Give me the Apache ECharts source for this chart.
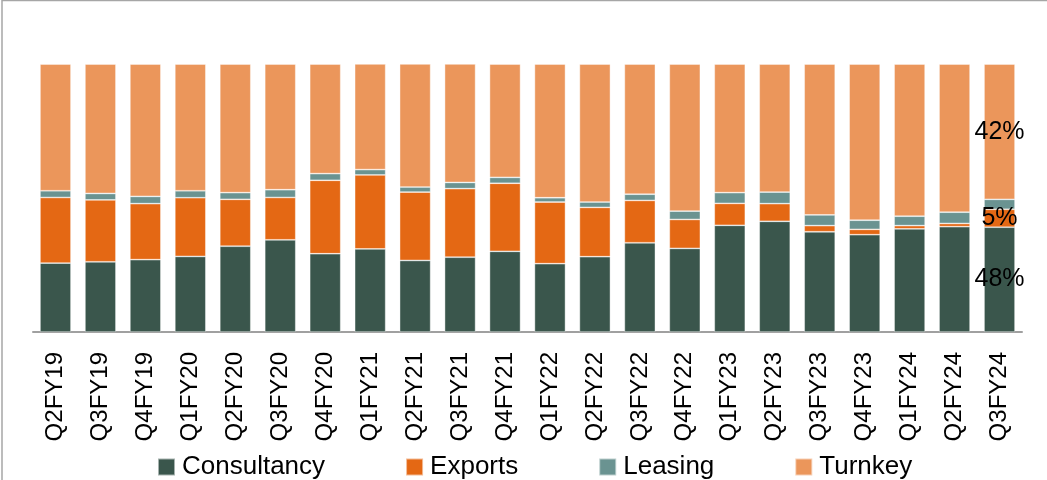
<!DOCTYPE html>
<html>
<head>
<meta charset="utf-8">
<script src="https://cdn.jsdelivr.net/npm/echarts@6/dist/echarts.min.js"></script>
<style>html,body{margin:0;padding:0;background:#fff}#c{width:1047px;height:480px}</style>
</head>
<body>
<div id="c"></div>
<script>
const categories = ['Q2FY19','Q3FY19','Q4FY19','Q1FY20','Q2FY20','Q3FY20','Q4FY20','Q1FY21','Q2FY21','Q3FY21','Q4FY21','Q1FY22','Q2FY22','Q3FY22','Q4FY22','Q1FY23','Q2FY23','Q3FY23','Q4FY23','Q1FY24','Q2FY24','Q3FY24'];
const consultancy = [25.7,26.2,27.0,28.2,32.0,34.4,29.2,31.0,26.7,27.9,30.1,25.5,28.1,33.3,31.2,39.8,41.3,37.4,36.3,38.5,39.3,39.1];
const exportsVals = [24.5,23.1,20.9,21.9,17.5,15.8,27.4,27.6,25.5,25.6,25.4,23.0,18.4,15.8,10.8,8.2,6.6,2.3,2.0,1.2,1.2,6.7];
const leasing = [2.5,2.4,2.7,2.6,2.5,2.9,2.5,2.0,1.9,2.3,2.2,1.6,2.0,2.3,3.1,4.0,4.3,4.0,3.4,3.5,4.2,3.7];
const turnkey = [47.3,48.3,49.4,47.3,48.0,46.9,40.9,39.4,45.9,44.2,42.3,49.9,51.5,48.6,54.9,48.0,47.8,56.3,58.3,56.8,55.3,50.5];
const seriesNames = ['Consultancy','Exports','Leasing','Turnkey'];
const lastLabels = ['48%','5%','','42%'];

const colors = ['#3a564c','#e46814','#6a9391','#eb965b'];
const FONT = '"Liberation Sans", Arial, sans-serif';
const allVals = [consultancy, exportsVals, leasing, turnkey];

function mkData(vals, idx) {
  return vals.map((v, i) => {
    if (i === vals.length - 1 && lastLabels[idx]) {
      return {value: v, label: {show: true, formatter: lastLabels[idx]}};
    }
    return v;
  });
}

const chart = echarts.init(document.getElementById('c'), null, {renderer: 'canvas'});
chart.setOption({
  animation: false,
  backgroundColor: '#fff',
  color: colors,
  grid: {left: 33, right: 25, top: 64, bottom: 148, containLabel: false},
  legend: {
    data: seriesNames,
    left: 152, top: 449,
    itemWidth: 17, itemHeight: 17, itemGap: 80,
    icon: 'rect',
    textStyle: {fontFamily: FONT, fontSize: 26, color: '#000', padding: [0,0,0,2]}
  },
  xAxis: {
    type: 'category',
    data: categories,
    axisLine: {show: true, lineStyle: {color: '#a0a0a0', width: 2}},
    axisTick: {show: false},
    axisLabel: {rotate: 90, interval: 0, margin: 20, fontFamily: FONT, fontSize: 24, color: '#000'}
  },
  yAxis: {type: 'value', min: 0, max: 100, show: false, splitLine: {show: false}},
  graphic: [{
    type: 'rect', silent: true, z: 100,
    shape: {x: 2, y: 0.5, width: 2000, height: 2000},
    style: {fill: 'none', stroke: '#a6a6a6', lineWidth: 1.5}
  }],
  series: seriesNames.map((name, idx) => ({
    name: name,
    type: 'bar',
    stack: 'total',
    barCategoryGap: '31%',
    data: mkData(allVals[idx], idx),
    itemStyle: {color: colors[idx], borderColor: 'rgba(255,255,255,0.55)', borderWidth: 0.75},
    label: {show: false, position: 'inside', color: '#000', fontFamily: FONT, fontSize: 25},
    emphasis: {disabled: true}
  }))
});
</script>
</body>
</html>
